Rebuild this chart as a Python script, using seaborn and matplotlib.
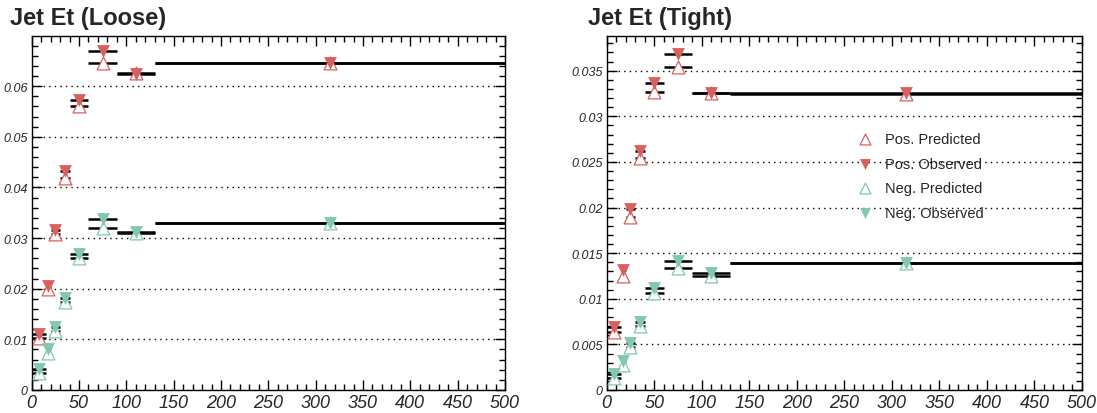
import numpy as np
import pandas as pd
import seaborn as sns
from matplotlib import pyplot as plt
from matplotlib.ticker import MultipleLocator

# bin edges in Jet Et
bin_edges = [0, 15, 20, 30, 40, 60, 90, 130, 500]

# Loose
loose_pos_pred = [0.0102, 0.0200, 0.0308, 0.0418, 0.0561, 0.0645, 0.0626, 0.0646]
loose_pos_obs = [0.0110, 0.0205, 0.0316, 0.0432, 0.0573, 0.0670, 0.0624, 0.0646]
loose_neg_pred = [0.0034, 0.0073, 0.0117, 0.0174, 0.0260, 0.0319, 0.0310, 0.0329]
loose_neg_obs = [0.0041, 0.0081, 0.0125, 0.0182, 0.0268, 0.0338, 0.0312, 0.0329]

# Tight
tight_pos_pred = [0.0064, 0.0125, 0.0190, 0.0254, 0.0327, 0.0354, 0.0326, 0.0324]
tight_pos_obs = [0.0069, 0.0131, 0.0198, 0.0262, 0.0337, 0.0368, 0.0326, 0.0325]
tight_neg_pred = [0.0013, 0.0027, 0.0047, 0.0070, 0.0106, 0.0134, 0.0125, 0.0139]
tight_neg_obs = [0.0017, 0.0032, 0.0052, 0.0075, 0.0112, 0.0141, 0.0128, 0.0139]

RED = '#d8615f'
GREEN = '#82c8ad'


def make_df(pred, obs):
    lo = np.array(bin_edges[:-1])
    hi = np.array(bin_edges[1:])
    return pd.DataFrame({'lo': lo, 'hi': hi, 'x': (lo + hi) / 2, 'pred': pred, 'obs': obs})


def draw_panel(ax, title_x, title, pos, neg, ymax, major, minor, legend=False):
    for df, color, name in [(pos, RED, 'Pos.'), (neg, GREEN, 'Neg.')]:
        ax.hlines(df['pred'], df['lo'], df['hi'], color='black', lw=1.8, zorder=2)
        ax.hlines(df['obs'], df['lo'], df['hi'], color='black', lw=1.8, zorder=2)
        sns.scatterplot(data=df, x='x', y='pred', ax=ax, marker='^', s=85,
                        facecolor='white', edgecolor=color, linewidth=0.9,
                        label=f'{name} Predicted', zorder=3)
        sns.scatterplot(data=df, x='x', y='obs', ax=ax, marker='v', s=85,
                        color=color, edgecolor=color, linewidth=0,
                        label=f'{name} Observed', zorder=4)
    ax.set_xlim(0, 500)
    ax.set_ylim(0, ymax)
    ax.set_xlabel('')
    ax.set_ylabel('')
    ax.xaxis.set_major_locator(MultipleLocator(50))
    ax.xaxis.set_minor_locator(MultipleLocator(10))
    ax.yaxis.set_major_locator(MultipleLocator(major))
    ax.yaxis.set_minor_locator(MultipleLocator(minor))
    ax.yaxis.grid(True, which='major', color='black', linestyle=(0, (1, 3)), lw=1)
    ax.tick_params(which='both', direction='in', top=True, right=True, color='black')
    ax.tick_params(which='major', length=7, width=1)
    ax.tick_params(which='minor', length=4, width=1)
    ax.tick_params(axis='x', labelsize=13, pad=3)
    ax.tick_params(axis='y', labelsize=9, pad=3)
    ax.yaxis.set_major_formatter(lambda v, p: '0' if v == 0 else f'{v:g}')
    for lab in ax.get_xticklabels() + ax.get_yticklabels():
        lab.set_fontstyle('italic')
    for sp in ax.spines.values():
        sp.set_color('black')
        sp.set_linewidth(1)
    ax.figure.text(title_x, 1 - 18 / 414, title, fontsize=17, fontweight='bold',
                   va='center', ha='left')
    if legend:
        ax.legend(loc='upper left', bbox_to_anchor=(0.5, 0.745), frameon=False,
                  fontsize=10.5, labelspacing=0.72, handletextpad=0.4,
                  borderaxespad=0, markerscale=0.85)
    else:
        ax.get_legend().remove()


sns.set_style('ticks')
plt.rcParams['font.family'] = ['Liberation Sans', 'DejaVu Sans']

fig = plt.figure(figsize=(10.97, 4.14), dpi=100)
ax1 = fig.add_axes([31.7 / 1097, 23 / 414, 473.3 / 1097, 354 / 414])
ax2 = fig.add_axes([606.7 / 1097, 23 / 414, 475.3 / 1097, 354 / 414])

draw_panel(ax1, 10 / 1097, 'Jet Et (Loose)',
           make_df(loose_pos_pred, loose_pos_obs), make_df(loose_neg_pred, loose_neg_obs),
           0.0699, 0.01, 0.002)
draw_panel(ax2, 588 / 1097, 'Jet Et (Tight)',
           make_df(tight_pos_pred, tight_pos_obs), make_df(tight_neg_pred, tight_neg_obs),
           0.0388, 0.005, 0.001, legend=True)

fig.savefig('out.png', dpi=100)
